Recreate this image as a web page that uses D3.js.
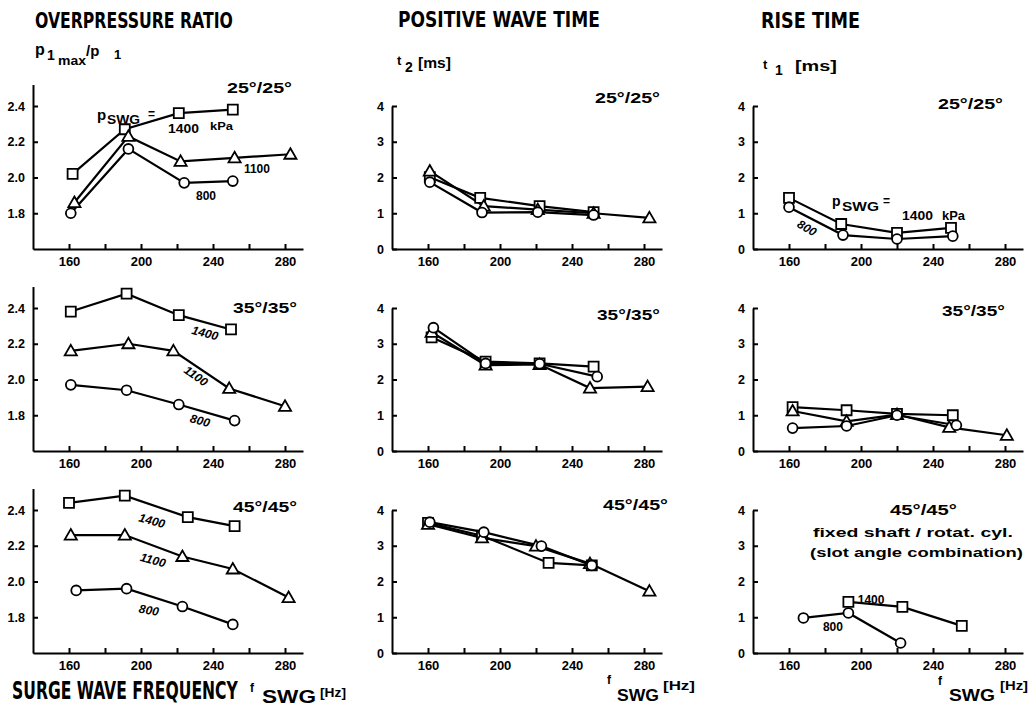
<!DOCTYPE html>
<html>
<head>
<meta charset="utf-8">
<script src="https://cdnjs.cloudflare.com/ajax/libs/d3/7.8.5/d3.min.js"></script>
<style>
    body { margin: 0; background: #fff; }
    svg { display: block; }
    text { font-family: "Liberation Sans", Arial, sans-serif; font-weight: bold; fill: #000; }
    .title { font-family: "Liberation Sans Narrow", "DejaVu Sans Condensed", sans-serif; }
    .curve-label { font-style: italic; font-size: 12px; }
</style>
</head>
<body>
<svg id="chart" width="1032" height="707"></svg>
<script>
// ---------- data ----------
const hzTicks = [160, 200, 240, 280];
const hzAllTicks = [160, 180, 200, 220, 240, 260, 280];
const ratioTicks = [1.8, 2.0, 2.2, 2.4];
const timeTicks = [0, 1, 2, 3, 4];
const quantityTitles = ["OVERPRESSURE RATIO", "POSITIVE WAVE TIME", "RISE TIME"];
const slotAngles = ["25°/25°", "35°/35°", "45°/45°"];
const pressures = [1400, 1100, 800];   // kPa: square, triangle, circle

// overpressure ratio p1max/p1 : [f_SWG (Hz), value]
const ratio25_1400 = [[162, 2.02], [191, 2.27], [221, 2.36], [251, 2.38]];
const ratio25_1100 = [[163, 1.86], [193, 2.23], [222, 2.09], [252, 2.11], [283, 2.13]];
const ratio25_800  = [[161, 1.80], [193, 2.16], [224, 1.97], [251, 1.98]];
const ratio35_1400 = [[161, 2.38], [192, 2.48], [221, 2.36], [250, 2.28]];
const ratio35_1100 = [[161, 2.16], [193, 2.20], [218, 2.16], [249, 1.95], [280, 1.85]];
const ratio35_800  = [[161, 1.97], [192, 1.94], [221, 1.86], [252, 1.77]];
const ratio45_1400 = [[160, 2.44], [191, 2.48], [226, 2.36], [252, 2.31]];
const ratio45_1100 = [[161, 2.26], [191, 2.26], [223, 2.14], [251, 2.07], [282, 1.91]];
const ratio45_800  = [[164, 1.95], [192, 1.96], [223, 1.86], [251, 1.76]];

// positive wave time t2 [ms]
const t2_25_1400 = [[161, 2.01], [189, 1.43], [222, 1.20], [252, 1.03]];
const t2_25_1100 = [[161, 2.18], [191, 1.20], [221, 1.10], [252, 1.00], [283, 0.87]];
const t2_25_800  = [[161, 1.87], [190, 1.02], [221, 1.03], [252, 0.95]];
const t2_35_1400 = [[162, 3.18], [192, 2.50], [222, 2.45], [252, 2.36]];
const t2_35_1100 = [[162, 3.32], [192, 2.40], [222, 2.42], [250, 1.76], [282, 1.80]];
const t2_35_800  = [[163, 3.45], [192, 2.45], [222, 2.44], [254, 2.08]];
const t2_45_1400 = [[160, 3.64], [190, 3.28], [227, 2.52], [251, 2.45]];
const t2_45_1100 = [[160, 3.60], [190, 3.22], [220, 2.99], [250, 2.50], [283, 1.73]];
const t2_45_800  = [[161, 3.66], [191, 3.38], [223, 2.99], [251, 2.45]];

// rise time t1 [ms]
const t1_25_1400 = [[160, 1.43], [189, 0.70], [220, 0.45], [250, 0.59]];
const t1_25_800  = [[160, 1.17], [190, 0.39], [220, 0.28], [251, 0.36]];
const t1_35_1400 = [[162, 1.23], [192, 1.14], [220, 1.04], [251, 1.00]];
const t1_35_1100 = [[162, 1.12], [192, 0.83], [220, 1.02], [249, 0.66], [281, 0.44]];
const t1_35_800  = [[162, 0.64], [192, 0.70], [220, 1.00], [253, 0.72]];
const t1_45_1400 = [[193, 1.43], [223, 1.29], [256, 0.76]];
const t1_45_800  = [[168, 0.98], [193, 1.12], [222, 0.28]];

// ---------- layout ----------
const svg = d3.select('#chart');
const colLeft = [33, 392, 753];
const colWidth = 270;
const rowBase = [249, 451, 653];
const plotH = 143;

const panels = [
    { row: 0, col: 0, series: [ratio25_1400, ratio25_1100, ratio25_800] },
    { row: 0, col: 1, series: [t2_25_1400, t2_25_1100, t2_25_800] },
    { row: 0, col: 2, series: [t1_25_1400, null, t1_25_800] },
    { row: 1, col: 0, series: [ratio35_1400, ratio35_1100, ratio35_800] },
    { row: 1, col: 1, series: [t2_35_1400, t2_35_1100, t2_35_800] },
    { row: 1, col: 2, series: [t1_35_1400, t1_35_1100, t1_35_800] },
    { row: 2, col: 0, series: [ratio45_1400, ratio45_1100, ratio45_800] },
    { row: 2, col: 1, series: [t2_45_1400, t2_45_1100, t2_45_800] },
    { row: 2, col: 2, series: [t1_45_1400, null, t1_45_800] }
];

// angle label: start x, baseline y, width
const angleLabelPos = [
    [227, 93, 65], [595, 103, 65], [938, 109, 65],
    [233, 313, 64], [597, 320, 63], [942, 316, 63],
    [233, 512, 64], [603, 510, 65], [890, 515, 67]
];

// curve labels in data units: panel, text, hz, value, rotation
const curveLabels = [
    [3, '1400', 235.6, 2.26, 15], [3, '1100', 230.6, 2.02, 35], [3, '800', 232.8, 1.77, 15],
    [6, '1400', 206.1, 2.34, 15], [6, '1100', 206.7, 2.12, 15], [6, '800', 204.4, 1.84, 10],
    [2, '800', 170, 0.59, 30]
];
const plainLabels = [
    [0, '1100', 264.4, 2.05], [0, '800', 236.1, 1.90],
    [8, '1400', 205.6, 1.48], [8, '800', 184.4, 0.73]
];

function scalesFor(p) {
    const left = colLeft[p.col], base = rowBase[p.row];
    const x = d3.scaleLinear().domain([140, 290]).range([left, left + colWidth]);
    const y = p.col === 0
        ? d3.scaleLinear().domain([1.6, 2.52]).range([base, base - plotH * 0.92 / 0.8])
        : d3.scaleLinear().domain([0, 4]).range([base, base - plotH]);
    return { x, y };
}

const shapes = [d3.symbolSquare, d3.symbolTriangle, d3.symbolCircle];
const shapeSize = [100, 64, 76];

// one text piece; if a width is given the glyphs are squeezed horizontally to it
function put(t, x, y, size, len, cls) {
    const el = svg.append('text').attr('font-size', size).text(t);
    if (cls) el.attr('class', cls);
    let sx = 1;
    if (len) sx = len / el.node().getComputedTextLength();
    el.attr('transform', `translate(${x},${y}) scale(${sx},1)`);
    return el;
}

panels.forEach((p, i) => {
    const { x, y } = scalesFor(p);
    p.x = x; p.y = y;
    const base = rowBase[p.row];
    const g = svg.append('g');

    // axes
    g.append('g')
        .attr('transform', `translate(0,${base})`)
        .call(d3.axisBottom(x).tickValues(hzAllTicks).tickSizeInner(-5).tickSizeOuter(0).tickPadding(8)
            .tickFormat(d => hzTicks.includes(d) ? d : ''))
        .call(a => a.selectAll('text').attr('font-size', 13).attr('font-family', null));

    g.append('g')
        .attr('transform', `translate(${colLeft[p.col]},0)`)
        .call(d3.axisLeft(y).tickValues(p.col === 0 ? ratioTicks : timeTicks).tickSizeInner(-5).tickSizeOuter(0).tickPadding(8)
            .tickFormat(d => p.col === 0 ? d.toFixed(1) : d))
        .call(a => a.selectAll('text').attr('font-size', 12.5).attr('font-family', null));

    g.selectAll('.domain, .tick line').attr('stroke', '#000').attr('stroke-width', 2);

    // curves
    const line = d3.line().x(d => x(d[0])).y(d => y(d[1]));
    p.series.forEach(s => {
        if (!s) return;
        g.append('path').datum(s).attr('d', line)
            .attr('fill', 'none').attr('stroke', '#000').attr('stroke-width', 2.2);
    });
    p.series.forEach((s, k) => {
        if (!s) return;
        g.selectAll(null).data(s).enter().append('path')
            .attr('transform', d => `translate(${x(d[0])},${y(d[1]) + (k === 1 ? 1 : 0)})`)
            .attr('d', d3.symbol().type(shapes[k]).size(shapeSize[k]))
            .attr('fill', '#fff').attr('stroke', '#000').attr('stroke-width', 1.8);
    });

    // slot angle label
    const a = angleLabelPos[i];
    put(slotAngles[p.row], a[0], a[1], 15, a[2]);
});

curveLabels.forEach(([pi, t, hz, v, rot]) => {
    const p = panels[pi];
    svg.append('text').attr('class', 'curve-label')
        .attr('text-anchor', 'middle').attr('dy', '0.35em')
        .attr('transform', `translate(${p.x(hz)},${p.y(v)}) rotate(${rot})`)
        .text(t);
});
plainLabels.forEach(([pi, t, hz, v]) => {
    const p = panels[pi];
    svg.append('text').attr('font-size', 12)
        .attr('text-anchor', 'middle').attr('dy', '0.35em')
        .attr('x', p.x(hz)).attr('y', p.y(v))
        .text(t);
});

// extra note under 45/45 rise time
put('fixed  shaft  /  rotat.  cyl.', 813, 537, 13, 200);
put('(slot  angle  combination)', 810, 557, 13, 213);

// p_SWG = 1400 kPa
put('p', 97, 120, 15);
put('SWG', 107, 124, 12, 33);
put('=', 148, 118, 12);
put('1400', 168, 133, 12, 31);
put('kPa', 210, 130, 11, 23);

put('p', 832, 206, 14);
put('SWG', 842, 211, 12, 37);
put('=', 883, 205, 12);
put('1400', 902, 220, 12, 31);
put('kPa', 942, 220, 12, 23);

// column titles
const titlePos = [[35, 28, 198], [398, 27, 202], [761, 28, 99]];
quantityTitles.forEach((t, i) => {
    put(t, titlePos[i][0], titlePos[i][1], 21, titlePos[i][2], 'title');
});

// y quantities
put('p', 35, 55, 16);
put('1', 47, 60, 14);
put('max', 58, 65, 13, 28);
put('/p', 86, 56, 15);
put('1', 114, 59, 13);

put('t', 397, 65, 13);
put('2', 405, 72, 14);
put('[ms]', 418, 68, 14, 33);

put('t', 763, 69, 13);
put('1', 775, 75, 14);
put('[ms]', 795, 71, 15, 42);

// x quantity labels
put('SURGE WAVE FREQUENCY', 12, 699, 24, 226, 'title');
put('f', 250, 692, 12);
put('SWG', 262, 703, 18, 54);
put('[Hz]', 320, 697, 13, 26);

put('f', 607, 684, 12);
put('SWG', 617, 701, 17, 42);
put('[Hz]', 663, 690, 13, 32);

put('f', 938, 685, 12);
put('SWG', 949, 701, 17, 46);
put('[Hz]', 1000, 690, 13, 28);
</script>
</body>
</html>
